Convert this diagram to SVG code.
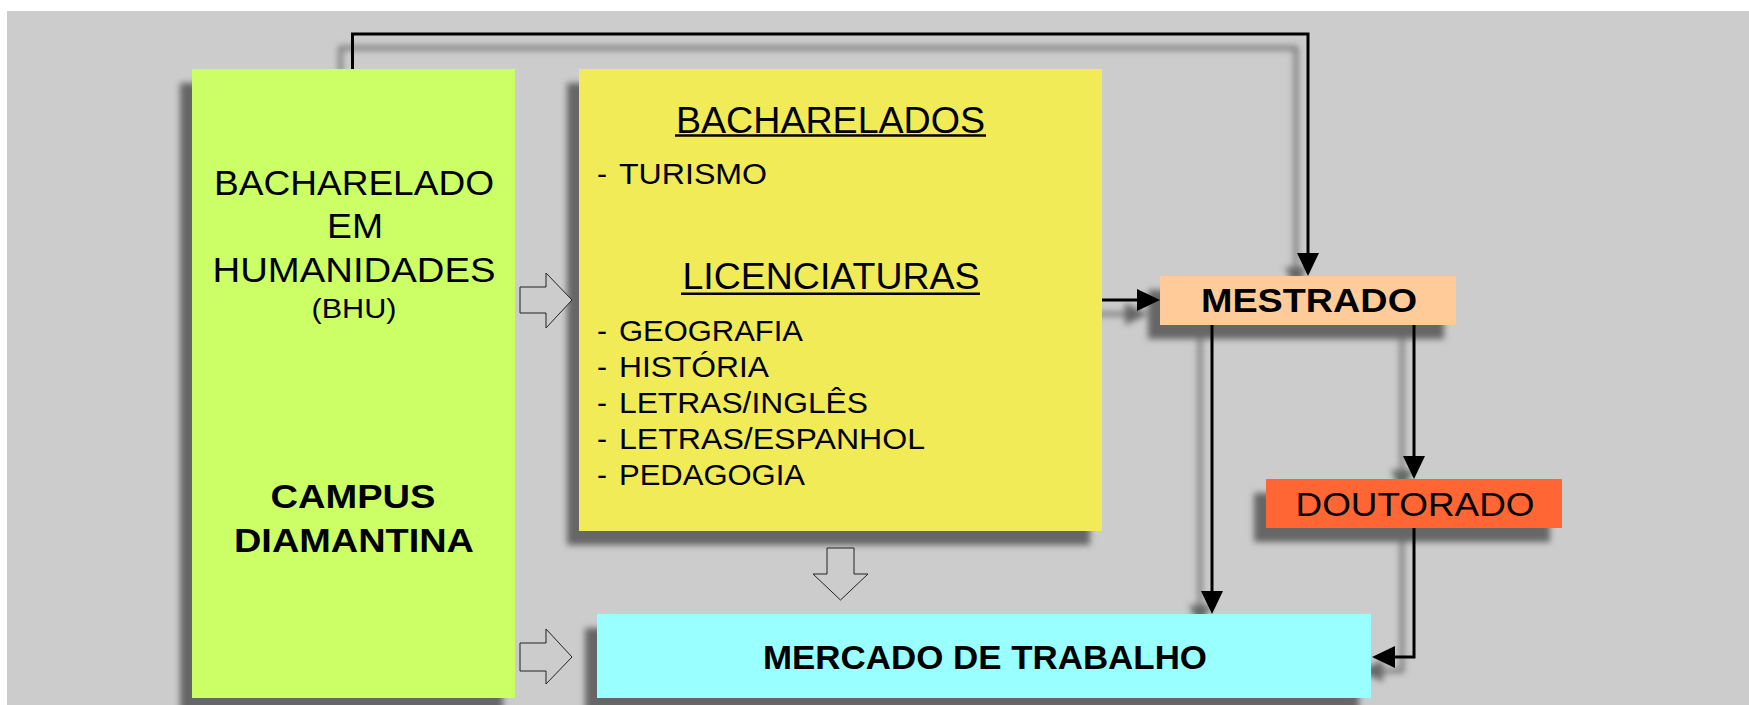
<svg xmlns="http://www.w3.org/2000/svg" width="1749" height="705" viewBox="0 0 1749 705">
<defs>
<style>
.t{font-family:"Liberation Sans",Arial,sans-serif;fill:#000;}
.b{font-weight:bold;}
.c{fill:none;stroke:#000;stroke-width:3;}
.cs{fill:none;stroke:#666;stroke-width:3.5;}
.blk{fill:#cccccc;stroke:#222;stroke-width:1;}
.ul{stroke:#000;stroke-width:2.5;}
</style>
<filter id="blur" filterUnits="userSpaceOnUse" x="0" y="0" width="1749" height="705"><feGaussianBlur stdDeviation="3"/></filter>
<marker id="ah" markerUnits="userSpaceOnUse" markerWidth="23" markerHeight="22" refX="13" refY="11" orient="auto"><path d="M0,0 L23,11 L0,22 z" fill="#000"/></marker>
<marker id="ahs" markerUnits="userSpaceOnUse" markerWidth="23" markerHeight="22" refX="13" refY="11" orient="auto"><path d="M0,0 L23,11 L0,22 z" fill="#666"/></marker>
</defs>
<rect x="7" y="11" width="1742" height="694" fill="#cccccc"/>
<g id="shadows" filter="url(#blur)" transform="translate(-12,14)">
<rect x="192" y="69" width="323" height="629" fill="#666"/>
<rect x="579" y="69" width="523" height="462" fill="#666"/>
<rect x="1160" y="276" width="296" height="49" fill="#666"/>
<rect x="1266" y="479" width="296" height="49" fill="#666"/>
<rect x="597" y="614" width="774" height="84" fill="#666"/>
<path class="cs" d="M1102,300 H1150" marker-end="url(#ahs)"/>
<path class="cs" d="M352.5,69 V34 H1308 V266" marker-end="url(#ahs)"/>
<path class="cs" d="M1212,325 V604" marker-end="url(#ahs)"/>
<path class="cs" d="M1414,325 V469" marker-end="url(#ahs)"/>
<path class="cs" d="M1414,528 V657 H1382" marker-end="url(#ahs)"/>
</g>
<g id="bhu">
<rect x="192" y="69" width="323" height="629" fill="#ccff66"/>
<text class="t" x="354" y="195" font-size="35" text-anchor="middle" textLength="280" lengthAdjust="spacingAndGlyphs">BACHARELADO</text>
<text class="t" x="355" y="238" font-size="35" text-anchor="middle" textLength="56" lengthAdjust="spacingAndGlyphs">EM</text>
<text class="t" x="354" y="282" font-size="35" text-anchor="middle" textLength="283" lengthAdjust="spacingAndGlyphs">HUMANIDADES</text>
<text class="t" x="354" y="318" font-size="27" text-anchor="middle" textLength="85" lengthAdjust="spacingAndGlyphs">(BHU)</text>
<text class="t b" x="353" y="508" font-size="34" text-anchor="middle" textLength="165" lengthAdjust="spacingAndGlyphs">CAMPUS</text>
<text class="t b" x="354" y="552" font-size="34" text-anchor="middle" textLength="240" lengthAdjust="spacingAndGlyphs">DIAMANTINA</text>
</g>
<g id="cursos">
<rect x="579" y="69" width="523" height="462" fill="#f1eb58"/>
<text class="t" x="830.5" y="133" font-size="36" text-anchor="middle" textLength="309" lengthAdjust="spacingAndGlyphs">BACHARELADOS</text>
<line class="ul" x1="675" y1="135.5" x2="986" y2="135.5"/>
<text class="t" x="597" y="184" font-size="30">-<tspan x="619" textLength="148" lengthAdjust="spacingAndGlyphs">TURISMO</tspan></text>
<text class="t" x="831" y="289" font-size="36" text-anchor="middle" textLength="297" lengthAdjust="spacingAndGlyphs">LICENCIATURAS</text>
<line class="ul" x1="681" y1="293.8" x2="980" y2="293.8"/>
<text class="t" x="597" y="340.5" font-size="30">-<tspan x="619" textLength="184" lengthAdjust="spacingAndGlyphs">GEOGRAFIA</tspan></text>
<text class="t" x="597" y="376.7" font-size="30">-<tspan x="619" textLength="150" lengthAdjust="spacingAndGlyphs">HISTÓRIA</tspan></text>
<text class="t" x="597" y="412.5" font-size="30">-<tspan x="619" textLength="249" lengthAdjust="spacingAndGlyphs">LETRAS/INGLÊS</tspan></text>
<text class="t" x="597" y="449" font-size="30">-<tspan x="619" textLength="306" lengthAdjust="spacingAndGlyphs">LETRAS/ESPANHOL</tspan></text>
<text class="t" x="597" y="485" font-size="30">-<tspan x="619" textLength="186" lengthAdjust="spacingAndGlyphs">PEDAGOGIA</tspan></text>
</g>
<g id="mestrado">
<rect x="1160" y="276" width="296" height="49" fill="#ffcc99"/>
<text class="t b" x="1309" y="312" font-size="34" text-anchor="middle" textLength="216" lengthAdjust="spacingAndGlyphs">MESTRADO</text>
</g>
<g id="doutorado">
<rect x="1266" y="479" width="296" height="49" fill="#ff6633"/>
<text class="t" x="1415" y="516" font-size="33" text-anchor="middle" textLength="239" lengthAdjust="spacingAndGlyphs">DOUTORADO</text>
</g>
<g id="mercado">
<rect x="597" y="614" width="774" height="84" fill="#99ffff"/>
<text class="t b" x="985" y="669" font-size="33" text-anchor="middle" textLength="444" lengthAdjust="spacingAndGlyphs">MERCADO DE TRABALHO</text>
</g>
<g id="connectors">
<path class="c" d="M1102,300 H1150" marker-end="url(#ah)"/>
<path class="c" d="M352.5,69 V34 H1308 V266" marker-end="url(#ah)"/>
<path class="c" d="M1212,325 V604" marker-end="url(#ah)"/>
<path class="c" d="M1414,325 V469" marker-end="url(#ah)"/>
<path class="c" d="M1414,528 V657 H1382" marker-end="url(#ah)"/>
<polygon class="blk" points="520,287 546,287 546,273 572,300 546,328 546,313 520,313"/>
<polygon class="blk" points="520,643 546,643 546,629 572,657 546,684 546,671 520,671"/>
<polygon class="blk" points="827,548 854,548 854,574 868,574 840.5,600 813,574 827,574"/>
</g>
</svg>
